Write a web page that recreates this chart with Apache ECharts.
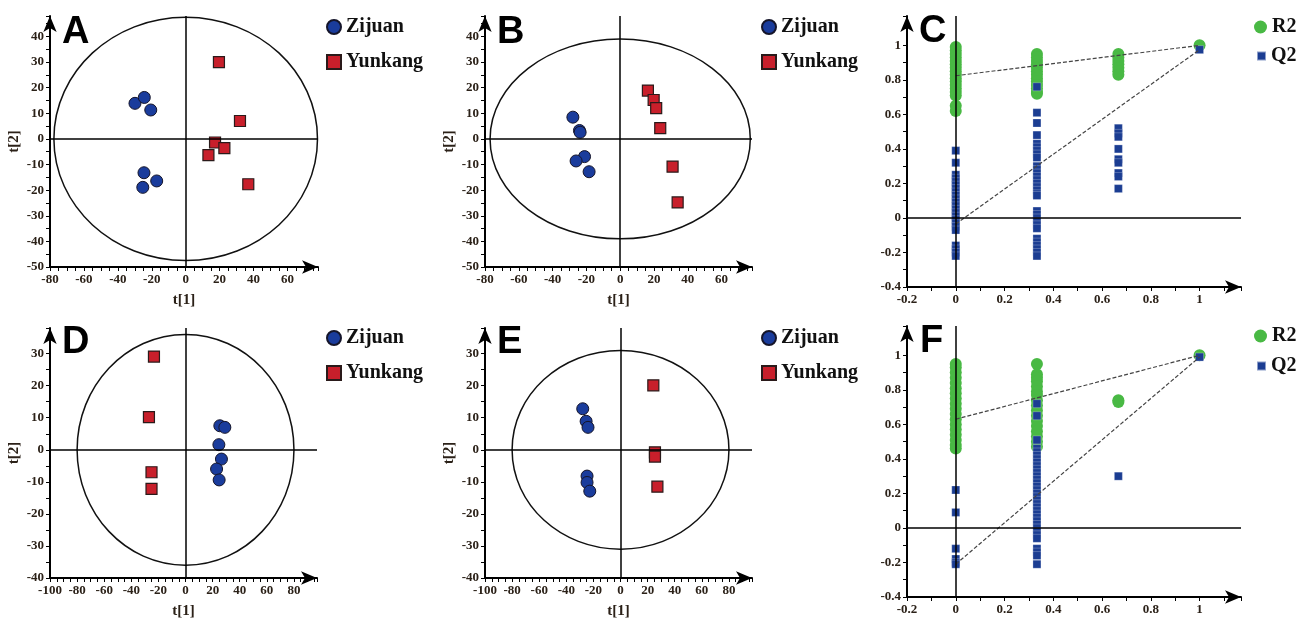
<!DOCTYPE html>
<html>
<head>
<meta charset="utf-8">
<script src="https://cdn.jsdelivr.net/npm/echarts@6/dist/echarts.min.js"></script>
<style>
  html, body { margin: 0; padding: 0; background: #fff; }
  #main { width: 1313px; height: 621px; }
</style>
</head>
<body>
<div id="main"></div>
<script>
// score plots: [t1, t2]
const aZijuan = [[-29.9, 13.9], [-24.4, 16.2], [-20.6, 11.3], [-24.6, -13.2], [-17.1, -16.4], [-25.3, -18.9]];
const aYunkang = [[19.6, 30.0], [32.0, 7.0], [17.3, -1.4], [22.8, -3.6], [13.4, -6.3], [36.9, -17.7]];
const aEllipse = [77.7, 47.5];

const bZijuan = [[-28.0, 8.5], [-24.1, 3.3], [-23.7, 2.6], [-21.1, -6.9], [-26.1, -8.6], [-18.4, -12.8]];
const bYunkang = [[16.4, 18.9], [19.8, 15.2], [21.3, 12.0], [23.7, 4.2], [31.0, -10.8], [34.0, -24.8]];
const bEllipse = [77, 39];

const dZijuan = [[25.3, 7.5], [29.0, 7.0], [24.6, 1.6], [26.5, -2.9], [22.9, -6.0], [24.8, -9.4]];
const dYunkang = [[-23.3, 29.1], [-27.0, 10.2], [-25.1, -7.0], [-25.1, -12.2]];
const dEllipse = [80, 36];

const eZijuan = [[-27.9, 12.8], [-25.4, 8.9], [-24.0, 7.0], [-24.7, -8.2], [-24.7, -10.2], [-22.7, -12.9]];
const eYunkang = [[24.2, 20.1], [25.4, -0.8], [25.4, -2.1], [27.2, -11.5]];
const eEllipse = [80, 31];

// permutation tests: one list of values per x position
const permX = [0, 0.333, 0.667, 1];
const cR2 = [
  [0.99, 0.97, 0.95, 0.93, 0.91, 0.89, 0.87, 0.85, 0.83, 0.81, 0.79, 0.77, 0.75, 0.73, 0.71, 0.65, 0.62],
  [0.95, 0.93, 0.91, 0.89, 0.87, 0.85, 0.83, 0.81, 0.79, 0.77, 0.75, 0.73, 0.72],
  [0.95, 0.93, 0.91, 0.89, 0.87, 0.85, 0.83],
  [1.0]
];
const cQ2 = [
  [0.39, 0.32, 0.25, 0.23, 0.21, 0.19, 0.17, 0.15, 0.13, 0.11, 0.09, 0.07, 0.05, 0.03, 0.01, -0.01, -0.03, -0.05, -0.07, -0.16, -0.18, -0.20, -0.22],
  [0.76, 0.61, 0.55, 0.48, 0.43, 0.41, 0.39, 0.37, 0.35, 0.30, 0.28, 0.26, 0.24, 0.22, 0.20, 0.18, 0.16, 0.14, 0.13, 0.04, 0.02, 0.0, -0.02, -0.04, -0.06, -0.12, -0.14, -0.16, -0.18, -0.20, -0.22],
  [0.52, 0.49, 0.47, 0.40, 0.34, 0.32, 0.26, 0.24, 0.17],
  [0.975]
];
const cR2Fit = [[0, 0.824], [1, 1.0]];
const cQ2Fit = [[0, -0.035], [1, 0.975]];

const fR2 = [
  [0.95, 0.93, 0.90, 0.87, 0.84, 0.81, 0.78, 0.75, 0.72, 0.69, 0.66, 0.63, 0.60, 0.57, 0.54, 0.51, 0.48, 0.46],
  [0.95, 0.89, 0.87, 0.85, 0.82, 0.79, 0.77, 0.74, 0.71, 0.68, 0.65, 0.62, 0.59, 0.56, 0.53, 0.50, 0.47],
  [0.74, 0.73],
  [1.0]
];
const fQ2 = [
  [0.22, 0.09, -0.12, -0.18, -0.20, -0.21],
  [0.72, 0.65, 0.51, 0.46, 0.44, 0.42, 0.40, 0.38, 0.36, 0.34, 0.32, 0.30, 0.28, 0.26, 0.24, 0.22, 0.20, 0.18, 0.16, 0.14, 0.12, 0.10, 0.08, 0.06, 0.04, 0.02, 0.0, -0.02, -0.04, -0.06, -0.12, -0.14, -0.16, -0.21],
  [0.30],
  [0.99]
];
const fR2Fit = [[0, 0.63], [1, 1.0]];
const fQ2Fit = [[0, -0.21], [1, 0.99]];

const panelLetters = ["A", "B", "C", "D", "E", "F"];

function toPairs(xs, lists) {
  let out = [];
  xs.forEach((x, i) => lists[i].forEach((v) => out.push([x, v])));
  return out;
}

const labelFont = {
  fontFamily: "Liberation Serif",
  fontWeight: "bold",
  fontSize: 13,
  color: "#2b2118",
};
const axisLine = {
  lineStyle: { color: "#000", width: 2 },
  symbol: ["none", "arrow"],
  symbolSize: [10, 16],
  onZero: false,
};
const axisTick = { length: 4, lineStyle: { color: "#000", width: 1 } };

function xAx(idx, min, max, interval, minorSplit, name) {
  return {
    gridIndex: idx,
    type: "value",
    min: min,
    max: max,
    interval: interval,
    splitLine: { show: false },
    axisLine: axisLine,
    axisTick: axisTick,
    minorTick: { show: true, splitNumber: minorSplit, length: 4, lineStyle: { color: "#000", width: 1 } },
    axisLabel: Object.assign({ margin: 6, showMaxLabel: false }, labelFont),
    name: name,
    nameLocation: "middle",
    nameGap: 26,
    nameTextStyle: { fontFamily: "Liberation Serif", fontWeight: "bold", fontSize: 15, color: "#2b2118" },
  };
}
function yAx(idx, min, max, interval, minorSplit, name) {
  return {
    gridIndex: idx,
    type: "value",
    min: min,
    max: max,
    interval: interval,
    splitLine: { show: false },
    axisLine: axisLine,
    axisTick: axisTick,
    minorTick: { show: true, splitNumber: minorSplit, length: 4, lineStyle: { color: "#000", width: 1 } },
    axisLabel: Object.assign({ margin: 6, showMaxLabel: false }, labelFont),
    name: name,
    nameLocation: "middle",
    nameGap: 28,
    nameRotate: 90,
    nameTextStyle: { fontFamily: "Liberation Serif", fontWeight: "bold", fontSize: 15, color: "#2b2118" },
  };
}

const zeroLines = {
  silent: true,
  symbol: "none",
  label: { show: false },
  lineStyle: { color: "#000", width: 1.5, type: "solid" },
  data: [{ xAxis: 0 }, { yAxis: 0 }],
};

function ellipse(idx, radii) {
  return {
    type: "custom",
    xAxisIndex: idx,
    yAxisIndex: idx,
    silent: true,
    z: 1,
    data: [radii],
    renderItem: function (params, api) {
      const c = api.coord([0, 0]);
      const s = api.size([api.value(0), api.value(1)]);
      return {
        type: "ellipse",
        shape: { cx: c[0], cy: c[1], rx: s[0], ry: s[1] },
        style: { fill: "none", stroke: "#111", lineWidth: 1.5 },
      };
    },
  };
}

function scores(idx, zijuan, yunkang, radii) {
  return [
    ellipse(idx, radii),
    {
      name: "Zijuan",
      type: "scatter",
      xAxisIndex: idx,
      yAxisIndex: idx,
      symbol: "circle",
      symbolSize: 12,
      z: 3,
      itemStyle: { color: "#1a3c9c", borderColor: "#15152a", borderWidth: 1, opacity: 1 },
      data: zijuan,
      markLine: zeroLines,
    },
    {
      name: "Yunkang",
      type: "scatter",
      xAxisIndex: idx,
      yAxisIndex: idx,
      symbol: "rect",
      symbolSize: 11,
      z: 3,
      itemStyle: { color: "#c81f2b", borderColor: "#2a1a1a", borderWidth: 1.2, opacity: 1 },
      data: yunkang,
    },
  ];
}

function perm(idx, r2, q2, r2Fit, q2Fit) {
  const fit = (d) => ({
    type: "line",
    xAxisIndex: idx,
    yAxisIndex: idx,
    symbol: "none",
    silent: true,
    z: 4,
    lineStyle: { color: "#444", width: 1.2, type: [4, 2] },
    data: d,
  });
  return [
    {
      name: "R2",
      type: "scatter",
      xAxisIndex: idx,
      yAxisIndex: idx,
      symbol: "circle",
      symbolSize: 12,
      z: 3,
      itemStyle: { color: "#49b944", opacity: 1 },
      data: toPairs(permX, r2),
      markLine: zeroLines,
    },
    {
      name: "Q2",
      type: "scatter",
      xAxisIndex: idx,
      yAxisIndex: idx,
      symbol: "rect",
      symbolSize: 8,
      z: 3,
      itemStyle: { color: "#1b3d92", borderColor: "rgba(255,255,255,0.5)", borderWidth: 0.5, opacity: 1 },
      data: toPairs(permX, q2),
    },
    fit(r2Fit),
    fit(q2Fit),
  ];
}

const grids = [
  { left: 50, top: 16, width: 268, height: 251 },
  { left: 485, top: 16, width: 267, height: 251 },
  { left: 907, top: 16, width: 334, height: 271 },
  { left: 50, top: 328, width: 267, height: 250 },
  { left: 485, top: 328, width: 267, height: 250 },
  { left: 907, top: 326, width: 334, height: 271 },
];

const letterPos = [[62, 14], [497, 14], [919, 13], [62, 324], [497, 324], [920, 323]];

const legendText = { fontFamily: "Liberation Serif", fontWeight: "bold", fontSize: 20, color: "#111" };
function scoreLegend(left, top) {
  return {
    left: left, top: top, orient: "vertical", padding: 0, itemGap: 15,
    itemWidth: 14, itemHeight: 14, selectedMode: false,
    data: ["Zijuan", "Yunkang"], textStyle: legendText,
  };
}
function oneLegend(name, left, top, size) {
  return {
    left: left, top: top, padding: 0, itemWidth: size, itemHeight: size, selectedMode: false,
    data: [name], textStyle: legendText,
  };
}

const option = {
  animation: false,
  backgroundColor: "#fff",
  title: panelLetters.map((t, i) => ({
    text: t,
    left: letterPos[i][0],
    top: letterPos[i][1],
    padding: 0,
    textStyle: { fontFamily: "Liberation Sans", fontWeight: "bold", fontSize: 38, color: "#000" },
  })),
  legend: [
    scoreLegend(326, 17),
    scoreLegend(761, 17),
    oneLegend("R2", 1254, 17, 13),
    oneLegend("Q2", 1256, 46, 9),
    scoreLegend(326, 328),
    scoreLegend(761, 328),
    oneLegend("R2", 1254, 326, 13),
    oneLegend("Q2", 1256, 356, 9),
  ],
  grid: grids,
  xAxis: [
    xAx(0, -80, 78, 20, 4, "t[1]"),
    xAx(1, -80, 78, 20, 4, "t[1]"),
    xAx(2, -0.2, 1.17, 0.2, 2, ""),
    xAx(3, -100, 97, 20, 4, "t[1]"),
    xAx(4, -100, 97, 20, 4, "t[1]"),
    xAx(5, -0.2, 1.17, 0.2, 2, ""),
  ],
  yAxis: [
    yAx(0, -50, 48, 10, 2, "t[2]"),
    yAx(1, -50, 48, 10, 2, "t[2]"),
    yAx(2, -0.4, 1.17, 0.2, 2, ""),
    yAx(3, -40, 38, 10, 2, "t[2]"),
    yAx(4, -40, 38, 10, 2, "t[2]"),
    yAx(5, -0.4, 1.17, 0.2, 2, ""),
  ],
  series: [].concat(
    scores(0, aZijuan, aYunkang, aEllipse),
    scores(1, bZijuan, bYunkang, bEllipse),
    perm(2, cR2, cQ2, cR2Fit, cQ2Fit),
    scores(3, dZijuan, dYunkang, dEllipse),
    scores(4, eZijuan, eYunkang, eEllipse),
    perm(5, fR2, fQ2, fR2Fit, fQ2Fit)
  ),
};

const chart = echarts.init(document.getElementById("main"), null, { renderer: "canvas" });
chart.setOption(option);
</script>
</body>
</html>
